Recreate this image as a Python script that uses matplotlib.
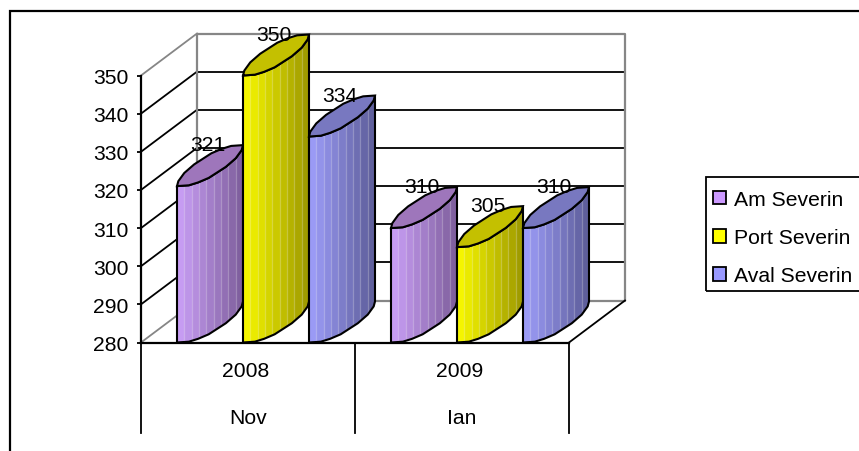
import numpy as np
import matplotlib
matplotlib.use("Agg")
import matplotlib.pyplot as plt
from matplotlib.patches import Patch, Polygon, Rectangle
from matplotlib.colors import to_rgb

plt.rcParams["font.family"] = ["Liberation Sans", "DejaVu Sans"]

# Data
years = ["2008", "2009"]
months = ["Nov", "Ian"]
series = ["Am Severin", "Port Severin", "Aval Severin"]
am_severin = [321, 310]
port_severin = [350, 305]
aval_severin = [334, 310]
yticks = [280, 290, 300, 310, 320, 330, 340, 350]

# light side, dark side, top cap, legend swatch
C_AM = ("#c69cf2", "#80609f", "#9e76bb", "#cc99ff")
C_PORT = ("#f5f500", "#a09c00", "#c4c000", "#ffff00")
C_AVAL = ("#9a9af5", "#5f5f9c", "#7878c0", "#9999ff")

W, H = 859, 452
AX_L, AX_R, AX_T, AX_B = 141, 569, 76.5, 343.5
FS = 15.2

fig = plt.figure(figsize=(W / 100, H / 100), dpi=100)
ax = fig.add_axes([AX_L / W, 1 - AX_B / H, (AX_R - AX_L) / W, (AX_B - AX_T) / H])
ax.set_xlim(0, 2)
ax.set_ylim(280, 350)
ax.patch.set_alpha(0)

# pixels to data units
PX = 2 / (AX_R - AX_L)
PY = 70 / (AX_B - AX_T)
DX, DY = 56 * PX, 42 * PY         # depth of the plot box
BAR_W = 66 * PX
BAR_DY = 41 * PY                  # rise of the oblique bar cap
BAR_START = 36 * PX               # gap left of the first bar in a group

# oblique ellipse edge, as fractions of width and rise
arc_u = np.array([0, 0.18, 0.32, 0.48, 0.74, 0.89, 0.98, 1])
arc_v = np.array([0, 0.02, 0.09, 0.20, 0.47, 0.68, 0.88, 1])

GRAY = "#868686"

# back wall, side wall, floor
for v in yticks[1:-1]:
    ax.plot([DX, 2 + DX], [v + DY] * 2, color="black", lw=1.3, clip_on=False, zorder=1)
for v in yticks:
    col = GRAY if v in (280, 350) else "black"
    ax.plot([0, DX], [v, v + DY], color=col, lw=1.3, clip_on=False, zorder=1)
ax.plot([DX, 2 + DX, 2 + DX, DX, DX], [280 + DY, 280 + DY, 350 + DY, 350 + DY, 280 + DY],
        color=GRAY, lw=1.6, clip_on=False, zorder=1.5)
ax.plot([2, 2 + DX], [280, 280 + DY], color="black", lw=1.3, clip_on=False, zorder=1.5)


def cylinder(x0, val, colors, z):
    light, dark, cap, _ = colors
    ux = x0 + arc_u * BAR_W
    low = arc_v * BAR_DY
    # body outline: base arc, up the right edge, top arc back down
    bx = np.r_[ux, ux[::-1]]
    by = np.r_[280 + low, (val + low)[::-1]]
    body = Polygon(np.c_[bx, by], closed=True, fc="none", ec="none", zorder=z, clip_on=False)
    ax.add_patch(body)
    n = 9
    a, b = np.array(to_rgb(light)), np.array(to_rgb(dark))
    for i in range(n):
        t = i / (n - 1)
        s = Rectangle((x0 + i * BAR_W / n, 280), BAR_W / n, val - 280 + BAR_DY,
                      fc=a + (b - a) * t, ec="none", zorder=z)
        ax.add_patch(s)
        s.set_clip_path(body)
        s.set_clip_box(fig.bbox)
        if i:
            ln, = ax.plot([x0 + i * BAR_W / n] * 2, [280, val + BAR_DY], color="white",
                          alpha=0.25, lw=0.9, zorder=z)
            ln.set_clip_path(body)
            ln.set_clip_box(fig.bbox)
    ax.add_patch(Polygon(np.c_[bx, by], closed=True, fc="none", ec="black", lw=1.5,
                         zorder=z + 0.2, clip_on=False))
    # cap: top arc plus its mirror through the centre
    tx = np.r_[ux, (x0 + BAR_W - arc_u * BAR_W)]
    ty = np.r_[val + low, val + BAR_DY - low]
    ax.add_patch(Polygon(np.c_[tx, ty], closed=True, fc=cap, ec="black", lw=1.5,
                         zorder=z + 0.3, clip_on=False))


z = 3
for g in range(2):
    for s, (vals, cols) in enumerate(zip([am_severin, port_severin, aval_severin],
                                         [C_AM, C_PORT, C_AVAL])):
        x0 = g + BAR_START + s * BAR_W
        cylinder(x0, vals[g], cols, z)
        z += 1
        ax.text(x0 + BAR_W / 2 - 2 * PX, vals[g] + 10.8, str(vals[g]), ha="center", va="center",
                fontsize=FS, clip_on=False, zorder=20)

# axes
ax.set_yticks(yticks)
ax.set_xticks([])
ax.tick_params(axis="y", length=3, width=1.3, labelsize=FS, pad=5.8)
for k in ("top", "right"):
    ax.spines[k].set_visible(False)
for k in ("left", "bottom"):
    ax.spines[k].set_linewidth(1.6)
ax.spines["left"].set_zorder(2)
ax.spines["bottom"].set_zorder(30)

# two-level category axis under the floor
y_low = 280 - 90 * PY
for x in [0, 1, 2]:
    ax.plot([x, x], [280, y_low], color="black", lw=1.3, clip_on=False)
for i, (yr, mo) in enumerate(zip(years, months)):
    ax.text(i + 0.5 - 2 * PX, 280 - 28 * PY, yr, ha="center", va="center", fontsize=FS, clip_on=False)
    ax.text(i + 0.5, 280 - 75 * PY, mo, ha="center", va="center", fontsize=FS, clip_on=False)

# outer frame and legend frame run off the right and bottom
fig.add_artist(Rectangle((10 / W, -0.05), 1, 1 - 12 / H + 0.05, transform=fig.transFigure,
                         fc="none", ec="black", lw=1.6))
fig.add_artist(Rectangle((706 / W, 1 - 292 / H), 1, 114 / H, transform=fig.transFigure,
                         fc="none", ec="black", lw=1.3))

handles = [Patch(fc=c[3], ec="black", lw=1.3) for c in (C_AM, C_PORT, C_AVAL)]
fig.legend(handles, series, loc="upper left", bbox_to_anchor=(713 / W, 1 - 191 / H),
           frameon=False, fontsize=FS, handlelength=0.62, handleheight=0.62,
           handletextpad=0.38, labelspacing=0.91, borderpad=0.0, borderaxespad=0)

fig.savefig("out.png", dpi=100)
